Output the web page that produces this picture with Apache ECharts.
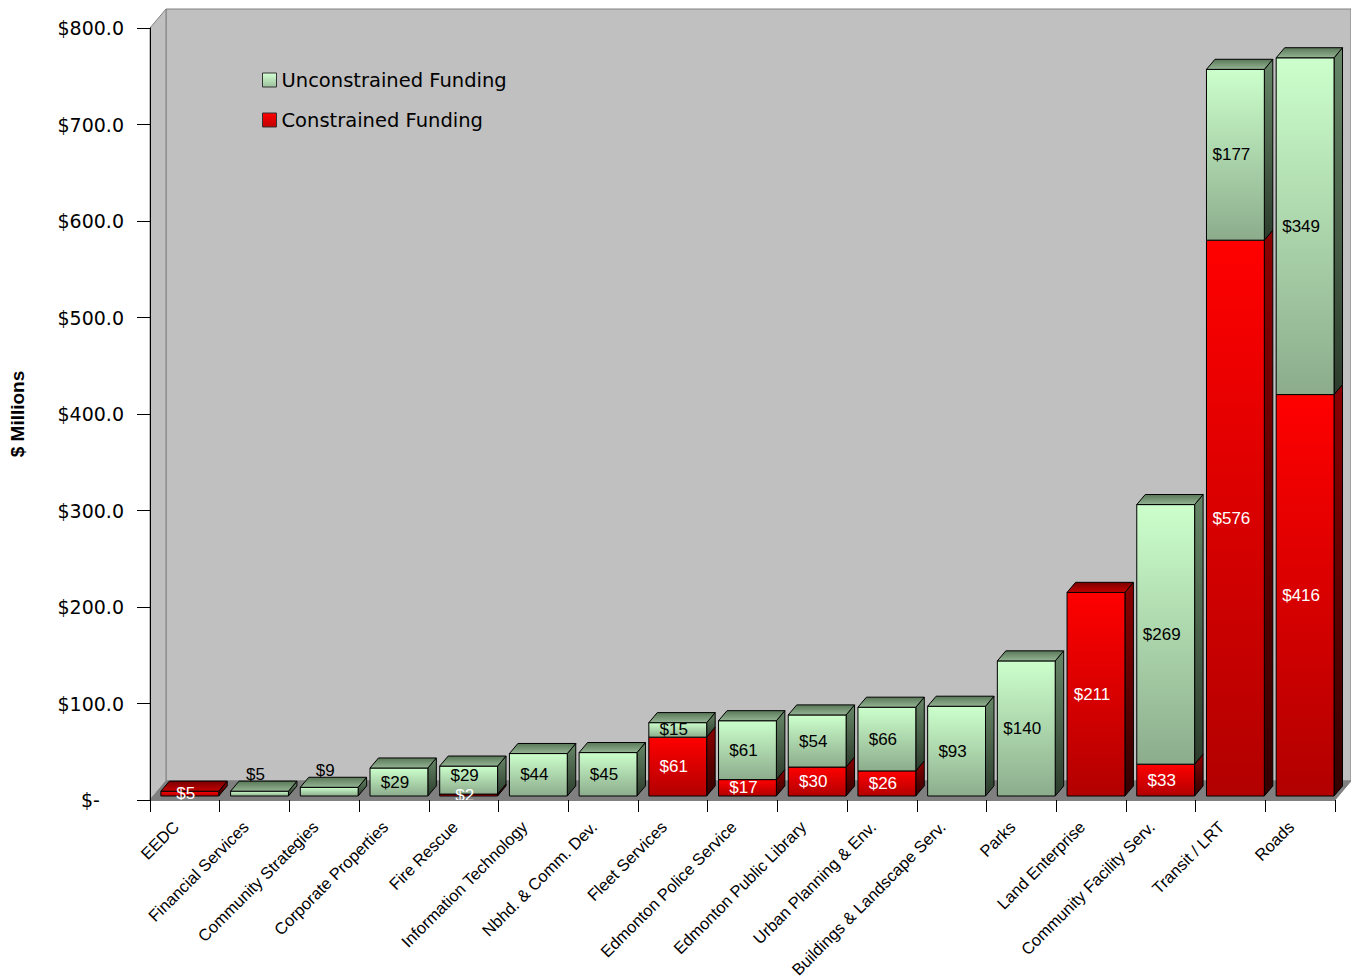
<!DOCTYPE html>
<html>
<head>
<meta charset="utf-8">
<title>Capital Funding by Branch</title>
<script src="https://cdn.jsdelivr.net/npm/echarts@6/dist/echarts.min.js"></script>
<style>
  html, body { margin: 0; padding: 0; background: #ffffff; }
  #chart { width: 1351px; height: 979px; }
</style>
</head>
<body>
<div id="chart"></div>
<script>
// Branch categories, in plotted order
const categories = [
  'EEDC', 'Financial Services', 'Community Strategies', 'Corporate Properties',
  'Fire Rescue', 'Information Technology', 'Nbhd. & Comm. Dev.', 'Fleet Services',
  'Edmonton Police Service', 'Edmonton Public Library', 'Urban Planning & Env.',
  'Buildings & Landscape Serv.', 'Parks', 'Land Enterprise', 'Community Facility Serv.',
  'Transit / LRT', 'Roads'
];

// Funding in $ millions
const constrained   = [5, 0, 0, 0, 2, 0, 0, 61, 17, 30, 26, 0, 0, 211, 33, 576, 416];
const unconstrained = [0, 5, 9, 29, 29, 44, 45, 15, 61, 54, 66, 93, 140, 0, 269, 177, 349];

// Value axis ticks
const yMin = 0;
const yMax = 800;
const yStep = 100;

const SERIES_UNC = 'Unconstrained Funding';
const SERIES_CON = 'Constrained Funding';

// Oblique depth of the 3-D box (pixels) and where the columns sit inside it
const DEPTH = [16, -19];
const BAR_FRONT = 0.21;
const BAR_BACK = 0.74;
const BAR_WIDTH = 0.83;

function vgrad(top, bottom) {
  return { type: 'linear', x: 0, y: 0, x2: 0, y2: 1, global: false,
    colorStops: [{ offset: 0, color: top }, { offset: 1, color: bottom }] };
}

const PALETTE = {
  green: {
    front: vgrad('#ccffcc', '#8cac8c'),
    side: vgrad('#678767', '#2c3c2c'),
    top: vgrad('#587858', '#94b494'),
    label: '#000000'
  },
  red: {
    front: vgrad('#ff0000', '#b20000'),
    side: vgrad('#8c0000', '#330000'),
    top: vgrad('#7a0000', '#c40000'),
    label: '#ffffff'
  }
};

const LABEL_FONT = { fontFamily: 'Liberation Sans, Arial, sans-serif', fontSize: 17 };
const NAME_FONT = { fontFamily: 'Liberation Sans, Arial, sans-serif', fontSize: 16.5 };

// Box: side wall, back wall and floor behind the columns
function renderBox(params, api) {
  const cs = params.coordSys;
  const x = cs.x, y = cs.y, w = cs.width, h = cs.height;
  const dx = DEPTH[0], dy = DEPTH[1];
  const edge = { stroke: '#808080', lineWidth: 1 };
  return {
    type: 'group',
    children: [
      { type: 'rect', shape: { x: x + dx, y: y + dy, width: w, height: h },
        style: Object.assign({ fill: '#c0c0c0' }, edge) },
      { type: 'polygon', shape: { points: [[x, y], [x + dx, y + dy], [x + dx, y + h + dy], [x, y + h]] },
        style: Object.assign({ fill: '#c0c0c0' }, edge) },
      { type: 'polygon', shape: { points: [[x, y + h], [x + w, y + h], [x + w + dx, y + h + dy], [x + dx, y + h + dy]] },
        style: Object.assign({ fill: '#808080' }, edge) }
    ]
  };
}

// Slanted category name hanging below its tick slot
function renderName(params, api) {
  const i = api.value(0);
  const p = api.coord([i, 0]);
  return {
    type: 'text',
    x: p[0] - 9,
    y: p[1] + 24,
    rotation: Math.PI / 4,
    z2: 10,
    style: Object.assign({
      text: categories[i],
      x: 0,
      y: 0,
      fill: '#000000',
      align: 'right',
      verticalAlign: 'middle'
    }, NAME_FONT)
  };
}

// One stacked 3-D column segment
function makeBarRenderer(kind) {
  return function (params, api) {
    const i = api.value(0);
    const base = api.value(1);
    const val = api.value(2);
    if (!val) return null;

    const pal = kind === 'con' ? PALETTE.red : PALETTE.green;
    const isTop = kind === 'unc' || unconstrained[i] === 0;

    const band = api.size([1, 0])[0];
    const p0 = api.coord([i, base]);
    const p1 = api.coord([i, base + val]);
    const fx = DEPTH[0] * BAR_FRONT, fy = DEPTH[1] * BAR_FRONT;
    const dx = DEPTH[0] * (BAR_BACK - BAR_FRONT), dy = DEPTH[1] * (BAR_BACK - BAR_FRONT);
    const w = band * BAR_WIDTH;
    const cx = p0[0] + 1.6 + fx;
    const x0 = cx - w / 2, x1 = cx + w / 2;
    const yb = p0[1] + fy, yt = p1[1] + fy;

    const line = { stroke: '#000000', lineWidth: 1 };
    const children = [
      { type: 'polygon', shape: { points: [[x1, yt], [x1 + dx, yt + dy], [x1 + dx, yb + dy], [x1, yb]] },
        style: Object.assign({ fill: pal.side }, line) },
      { type: 'rect', shape: { x: x0, y: yt, width: w, height: yb - yt },
        style: Object.assign({ fill: pal.front }, line) }
    ];
    if (isTop) {
      children.push({ type: 'polygon',
        shape: { points: [[x0, yt], [x1, yt], [x1 + dx, yt + dy], [x0 + dx, yt + dy]] },
        style: Object.assign({ fill: pal.top }, line) });
    }

    // Value label: centred on the segment, moved clear of tiny segments
    let ly = (yt + yb) / 2;
    const segH = yb - yt;
    if (kind === 'unc') {
      const below = constrained[i];
      if (below === 0 && segH < 18) {
        ly = yt + dy - 7;
      } else if (below > 0) {
        const c0 = api.coord([i, 0]);
        const c1 = api.coord([i, below]);
        const belowH = c0[1] - c1[1];
        if (belowH < 18) {
          const belowLabel = (c0[1] + c1[1]) / 2 + fy;
          ly = Math.min(ly, belowLabel - 20);
        }
      }
    }
    children.push({
      type: 'text',
      z2: 50,
      style: Object.assign({
        text: '$' + val,
        x: cx - 4,
        y: ly,
        fill: pal.label,
        align: 'center',
        verticalAlign: 'middle'
      }, LABEL_FONT)
    });

    return { type: 'group', children: children };
  };
}

const boxData = [[0, 0]];
const nameData = categories.map((c, i) => [i, 0]);
const conData = categories.map((c, i) => [i, 0, constrained[i]]);
const uncData = categories.map((c, i) => [i, constrained[i], unconstrained[i]]);

const chart = echarts.init(document.getElementById('chart'), null, { renderer: 'svg' });

chart.setOption({
  backgroundColor: '#ffffff',
  animation: false,
  grid: { left: 150, right: 16, top: 28, bottom: 179, containLabel: false, outerBoundsMode: 'none' },
  legend: {
    orient: 'vertical',
    left: 257,
    top: 65,
    itemWidth: 14,
    itemHeight: 14,
    itemGap: 20,
    selectedMode: false,
    textStyle: { fontFamily: 'DejaVu Sans, sans-serif', fontSize: 19.5, color: '#000000', lineHeight: 20 },
    data: [
      { name: SERIES_UNC, icon: 'rect',
        itemStyle: { color: vgrad('#d4ffd4', '#9cc09c'), borderColor: '#333333', borderWidth: 1 } },
      { name: SERIES_CON, icon: 'rect',
        itemStyle: { color: vgrad('#ff0000', '#c00000'), borderColor: '#333333', borderWidth: 1 } }
    ]
  },
  xAxis: {
    type: 'category',
    data: categories,
    z: 5,
    boundaryGap: true,
    axisLine: { show: true, lineStyle: { color: '#808080', width: 1 } },
    axisTick: { show: true, interval: 0, length: 12, alignWithLabel: false, lineStyle: { color: '#000000', width: 1 } },
    axisLabel: { show: false, interval: 0 },
    splitLine: { show: false }
  },
  yAxis: {
    type: 'value',
    min: yMin,
    max: yMax,
    interval: yStep,
    z: 5,
    name: '$ Millions',
    nameLocation: 'middle',
    nameGap: 123,
    nameMoveOverlap: false,
    nameTextStyle: { fontFamily: 'Liberation Sans, Arial, sans-serif', fontWeight: 'bold', fontSize: 19, color: '#000000' },
    axisLine: { show: true, lineStyle: { color: '#000000', width: 1 } },
    axisTick: { show: true, length: 13, inside: false, lineStyle: { color: '#000000', width: 1 } },
    axisLabel: {
      margin: 26,
      color: '#000000',
      fontFamily: 'DejaVu Sans, sans-serif',
      fontSize: 19,
      formatter: function (v) { return v === 0 ? '$-    ' : '$' + v.toFixed(1); }
    },
    splitLine: { show: false }
  },
  series: [
    {
      name: 'box',
      type: 'custom',
      z: 1,
      silent: true,
      renderItem: renderBox,
      encode: { x: 0, y: 1 },
      data: boxData,
      tooltip: { show: false }
    },
    {
      name: SERIES_CON,
      type: 'custom',
      z: 2,
      renderItem: makeBarRenderer('con'),
      encode: { x: 0, y: 2 },
      itemStyle: { color: '#ff0000' },
      data: conData
    },
    {
      name: SERIES_UNC,
      type: 'custom',
      z: 2,
      renderItem: makeBarRenderer('unc'),
      encode: { x: 0, y: 2 },
      itemStyle: { color: '#ccffcc' },
      data: uncData
    },
    {
      name: 'category names',
      type: 'custom',
      z: 5,
      silent: true,
      clip: false,
      renderItem: renderName,
      encode: { x: 0, y: 1 },
      data: nameData,
      tooltip: { show: false }
    }
  ]
});
</script>
</body>
</html>
